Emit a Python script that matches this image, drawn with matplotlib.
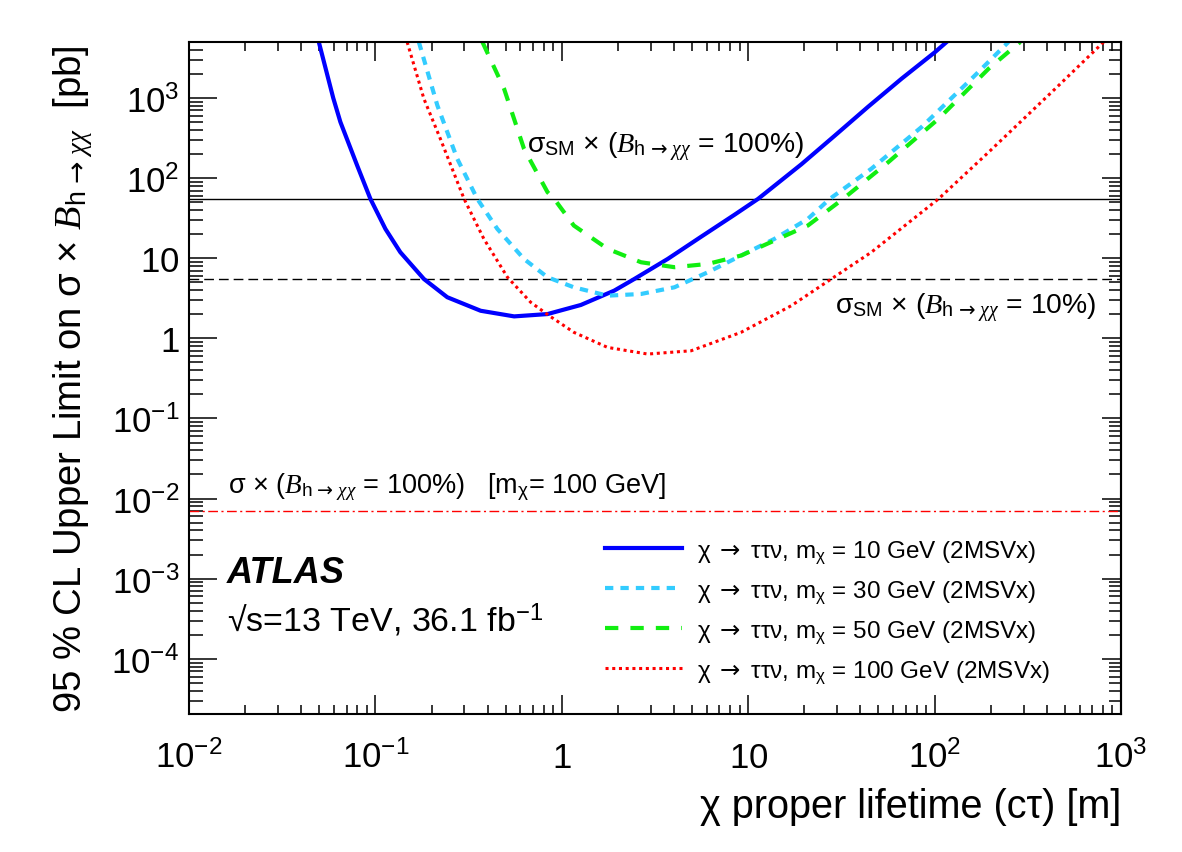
import numpy as np
import matplotlib
matplotlib.use("Agg")
import matplotlib.pyplot as plt
from matplotlib.ticker import FixedLocator, LogLocator, NullFormatter

plt.rcParams["font.family"] = ["Liberation Sans", "DejaVu Sans"]
plt.rcParams["mathtext.fontset"] = "custom"
plt.rcParams["mathtext.rm"] = "Liberation Sans"
plt.rcParams["mathtext.it"] = "Liberation Serif:italic"
plt.rcParams["mathtext.bf"] = "Liberation Sans:bold"
plt.rcParams["mathtext.sf"] = "DejaVu Sans"

# chi proper lifetime c*tau [m] vs 95% CL upper limit [pb]
ctau_10 = [0.0497, 0.0594, 0.0649, 0.0798, 0.094, 0.1132, 0.136, 0.182, 0.243, 0.367,
           0.555, 0.838, 1.265, 1.91, 2.45, 3.70, 5.58, 8.43, 11.3, 19.3,
           29.1, 44.0, 66.5, 100.5, 116]
lim_10 = [5000, 1000, 501, 144, 55.1, 23.2, 11.9, 5.51, 3.26, 2.21,
          1.88, 2.01, 2.61, 3.94, 5.51, 9.80, 18.5, 34.8, 55.1, 149,
          338, 778, 1742, 3737, 5000]

ctau_30 = [0.171, 0.215, 0.275, 0.352, 0.451, 0.627, 0.838, 1.16, 1.76, 2.66,
           4.02, 6.07, 9.16, 13.8, 20.9, 27.4, 45.8, 85.1, 158, 249]
lim_30 = [5000, 807, 174, 55.1, 23.2, 9.79, 5.79, 4.34, 3.41, 3.58,
          4.34, 6.68, 10.8, 17.4, 31.0, 55.1, 131, 434, 1742, 5000]

ctau_50 = [0.375, 0.490, 0.627, 0.838, 0.910, 1.16, 1.76, 2.66, 4.02, 6.07,
           9.16, 13.8, 20.9, 32.3, 56.4, 105, 195, 288]
lim_50 = [5000, 1306, 232, 66.8, 55.1, 25.6, 13.1, 8.91, 7.73, 8.49,
          10.8, 16.6, 25.6, 55.1, 158, 551, 2323, 5000]

ctau_100 = [0.148, 0.182, 0.223, 0.299, 0.382, 0.511, 0.681, 0.855, 1.16, 1.76,
            2.89, 4.94, 9.16, 17.0, 27.9, 45.8, 105, 195, 444, 807]
lim_100 = [5000, 980, 310, 55.1, 17.4, 5.79, 2.82, 1.92, 1.19, 0.771,
           0.637, 0.700, 1.19, 2.55, 5.51, 11.9, 55.1, 211, 1306, 5000]

# reference cross sections [pb]
sigma_sm_100 = 55.0
sigma_sm_10 = 5.5
sigma_100gev = 0.0071

masses = ["10", "30", "50", "100"]
x_ticks = [1e-2, 1e-1, 1, 10, 1e2, 1e3]
x_ticklabels = [r"$\mathregular{10^{-2}}$", r"$\mathregular{10^{-1}}$", r"$\mathregular{1}$",
                r"$\mathregular{10}$", r"$\mathregular{10^{2}}$", r"$\mathregular{10^{3}}$"]
y_ticks = [1e-4, 1e-3, 1e-2, 1e-1, 1, 10, 1e2, 1e3]
y_ticklabels = [r"$\mathregular{10^{-4}}$", r"$\mathregular{10^{-3}}$", r"$\mathregular{10^{-2}}$",
                r"$\mathregular{10^{-1}}$", r"$\mathregular{1}$", r"$\mathregular{10}$",
                r"$\mathregular{10^{2}}$", r"$\mathregular{10^{3}}$"]

arrow = r"\mathsf{\rightarrow}"
br = r"$B_{\mathrm{h}\," + arrow + r"\,\chi\chi}$"

fig = plt.figure(figsize=(11.82, 8.53), dpi=100)
ax = fig.add_axes([0.1599, 0.1618, 0.7885, 0.7878])
ax.set_xscale("log")
ax.set_yscale("log")
ax.set_xlim(1e-2, 1e3)
ax.set_ylim(2.05e-5, 5000)

# horizontal reference lines
ax.axhline(sigma_sm_100, color="black", lw=1.0)
ax.axhline(sigma_sm_10, color="black", lw=1.0, linestyle=(0, (7, 3.6)))
ax.axhline(sigma_100gev, color="#ff0000", lw=1.0, linestyle=(0, (7, 2.5, 1.5, 2.5)))

# limit curves
l1, = ax.plot(ctau_10, lim_10, color="#0000ff", lw=3.0)
l2, = ax.plot(ctau_30, lim_30, color="#33ccff", lw=3.0, linestyle=(0, (2.0, 1.7)))
l3, = ax.plot(ctau_50, lim_50, color="#11ee11", lw=3.0, linestyle=(0, (3.2, 2.9)))
l4, = ax.plot(ctau_100, lim_100, color="#ff0000", lw=2.2, linestyle=(0, (1.0, 1.2)))

labels = [r"χ $" + arrow + r"$ ττν, m$_{\mathrm{\chi}}$ = %s GeV (2MSVx)" % m for m in masses]
ax.legend([l1, l2, l3, l4], labels, loc="upper left", bbox_to_anchor=(0.446, 0.262),
          frameon=False, fontsize=17.5, handlelength=3.2, handletextpad=0.6,
          labelspacing=0.55, borderpad=0, borderaxespad=0)

# annotations
ax.text(0.3627, 0.836, r"σ$_{\mathrm{SM}}$ × (" + br + " = 100%)",
        transform=ax.transAxes, fontsize=20.3, va="baseline", ha="left")
ax.text(0.693, 0.597, r"σ$_{\mathrm{SM}}$ × (" + br + " = 10%)",
        transform=ax.transAxes, fontsize=20.3, va="baseline", ha="left")
ax.text(0.0418, 0.330, r"σ × (" + br + r" = 100%)   [m$_{\mathrm{\chi}}$= 100 GeV]",
        transform=ax.transAxes, fontsize=19.5, va="baseline", ha="left")
ax.text(0.0408, 0.196, "ATLAS", transform=ax.transAxes, fontsize=26,
        fontweight="bold", fontstyle="italic", va="baseline")
ax.text(0.0408, 0.1235, r"√s=13 TeV, 36.1 fb$^{\mathregular{-1}}$",
        transform=ax.transAxes, fontsize=24.5, va="baseline")

# axes, ticks
ax.xaxis.set_major_locator(FixedLocator(x_ticks))
ax.xaxis.set_minor_locator(LogLocator(base=10, subs=np.arange(2, 10), numticks=20))
ax.xaxis.set_minor_formatter(NullFormatter())
ax.set_xticks(x_ticks)
ax.set_xticklabels(x_ticklabels)
ax.yaxis.set_major_locator(FixedLocator(y_ticks))
ax.yaxis.set_minor_locator(LogLocator(base=10, subs=np.arange(2, 10), numticks=20))
ax.yaxis.set_minor_formatter(NullFormatter())
ax.set_yticks(y_ticks)
ax.set_yticklabels(y_ticklabels)

ax.tick_params(axis="x", which="major", direction="in", length=13.7, width=1.1,
               top=True, labelsize=25, pad=38)
ax.tick_params(axis="x", which="minor", direction="in", length=6.8, width=1.1, top=True)
ax.tick_params(axis="y", which="major", direction="in", length=20, width=1.1,
               labelsize=25, pad=7)
ax.tick_params(axis="y", which="minor", direction="in", length=10, width=1.1)
for t in ax.xaxis.get_major_ticks():
    t.label1.set_verticalalignment("baseline")

# shorter ticks on the right side
sec = ax.secondary_yaxis("right")
sec.yaxis.set_major_locator(FixedLocator(y_ticks))
sec.yaxis.set_minor_locator(LogLocator(base=10, subs=np.arange(2, 10), numticks=20))
sec.yaxis.set_major_formatter(NullFormatter())
sec.yaxis.set_minor_formatter(NullFormatter())
sec.tick_params(which="major", direction="in", length=13.7, width=1.1)
sec.tick_params(which="minor", direction="in", length=8.5, width=1.1)
sec.spines["right"].set_linewidth(1.5)

for s in ax.spines.values():
    s.set_linewidth(1.5)

ax.set_xlabel("χ proper lifetime (cτ) [m]", fontsize=28.5, ha="right")
ax.xaxis.set_label_coords(1.0, -0.109)
ax.set_ylabel("95 % CL Upper Limit on σ × " + br + "  [pb]", fontsize=27.5)
ax.yaxis.set_label_coords(-0.101, 0.5)

fig.savefig("out.png", dpi=100)
